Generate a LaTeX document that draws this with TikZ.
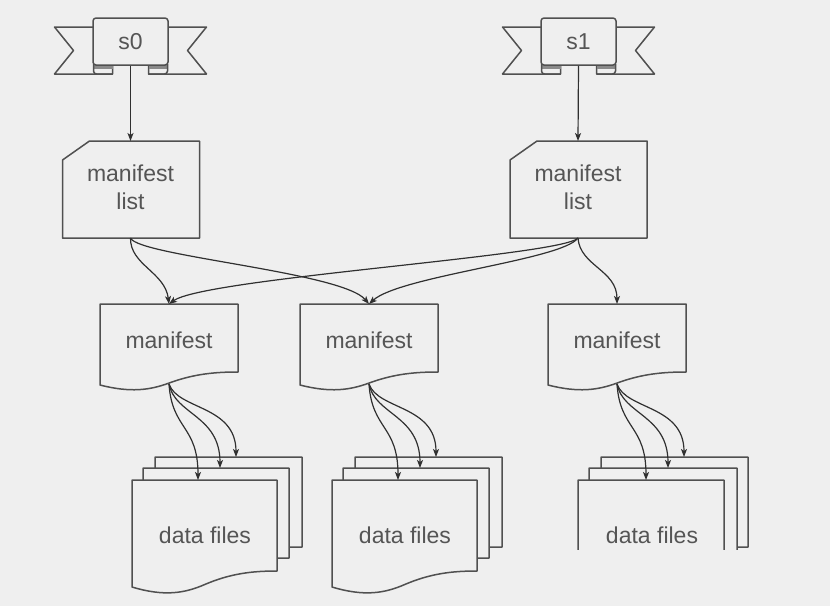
\documentclass[tikz,border=0pt]{standalone}
\usepackage{fontspec}
\setmainfont{Liberation Sans}
\usetikzlibrary{arrows.meta,calc}
\definecolor{bg}{HTML}{EFEFEF}
\definecolor{edgec}{HTML}{505050}
\definecolor{arrc}{HTML}{303030}
\definecolor{txtc}{HTML}{555555}
\definecolor{foldc}{HTML}{8A8A8A}
\tikzset{
  outl/.style={draw=edgec, line width=1.5pt, line join=round},
  conn/.style={draw=arrc, line width=1.2pt, -{Stealth[length=8pt,width=6pt,inset=2pt]}},
  lbl/.style={text=txtc, font=\fontsize{23}{28}\selectfont, inner sep=0pt, align=center},
  flag/.style={outl, fill=bg, rounded corners=3pt, minimum width=75pt, minimum height=47pt, inner sep=0pt, text=txtc, font=\fontsize{23}{28}\selectfont},
}
% document shape: x1 ytop x2 yright yleft
\newcommand\mydoc[5]{%
  \draw[outl, fill=bg] ({#1},#2) -- ({#3},#2) -- ({#3},#4)
   .. controls ({(#1)+0.83*((#3)-(#1))},#4) and ({(#1)+0.68*((#3)-(#1))},{(#4)+0.15*((#5)-(#4))}) .. ({(#1)+0.5*((#3)-(#1))},{(#5)-0.15*((#5)-(#4))})
   .. controls ({(#1)+0.36*((#3)-(#1))},{(#5)+0.4*((#5)-(#4))}) and ({(#1)+0.22*((#3)-(#1))},{(#5)+0.6*((#5)-(#4))}) .. ({#1},#5) -- cycle;}
\newcommand\mybanner[3]{%
  \begin{scope}[shift={(#1,0)}]
    \draw[outl, fill=bg] (-37,27) -- (-76,27) -- (-57,50.5) -- (-76,74) -- (-18,74) -- (-18,64);
    \draw[outl, fill=bg] (37,27) -- (76,27) -- (57,50.5) -- (76,74) -- (18,74) -- (18,64);
    \fill[foldc] (-37,64) rectangle (-18,69);
    \fill[foldc] (18,64) rectangle (37,69);
    \draw[outl, rounded corners=3pt] (-37,64) -- (-37,74) -- (-18,74);
    \draw[outl, rounded corners=3pt] (37,64) -- (37,74) -- (18,74);
  \end{scope}
  \node[flag] (#2) at (#1,41.5) {#3};}
\newcommand\mylist[2]{% center x, name
  \draw[outl, fill=bg] ({#1-68},160) -- ({#1-41},141) -- ({#1+69},141) -- ({#1+69},238) -- ({#1-68},238) -- cycle;
  \node[lbl] (#2) at (#1,187) {manifest\\list};
  \coordinate (#2t) at (#1,141);
  \coordinate (#2b) at (#1,238);}
\begin{document}
\begin{tikzpicture}[x=1pt, y=-1pt]
\fill[bg] (0,0) rectangle (830,606);
\useasboundingbox (0,0) rectangle (830,606);

% snapshots
\mybanner{130.5}{S0}{s0}
\mybanner{578.5}{S1}{s1}

% manifest lists
\mylist{130.5}{L0}
\mylist{578}{L1}

% manifests
\foreach \i/\mx in {0/169,1/369,2/617}{
  \mydoc{\mx-69}{304}{\mx+69}{372}{385}
  \node[lbl] (M\i) at (\mx,340) {manifest};
  \coordinate (Mt\i) at (\mx,304);
  \coordinate (Mb\i) at (\mx,384);
}

% data file stacks
\foreach \i/\dx in {0/0,1/200}{
  \mydoc{155+\dx}{457}{302+\dx}{547}{563}
  \mydoc{143+\dx}{468}{289+\dx}{558}{574}
  \mydoc{132+\dx}{480}{277+\dx}{571}{587}
  \node[lbl] (D\i) at (205+\dx,535) {data files};
}
\begin{scope}
  \clip (0,0) rectangle (830,549);
  \mydoc{601}{457}{748}{547}{563}
  \mydoc{589}{468}{737}{558}{574}
  \mydoc{578}{480}{724}{571}{587}
  \node[lbl] (D2) at (652,535) {data files};
\end{scope}

% snapshot -> manifest list
\draw[conn] (S0.south) -- (L0t);
\draw[conn] (S1.south) -- (L1t);

% manifest list -> manifests
\draw[conn] (L0b) .. controls (130,265) and (165,272) .. (Mt0);
\draw[conn] (L0b) .. controls (138,256) and (342,272) .. (Mt1);
\draw[conn] (L1b) .. controls (562,256) and (205,278) .. (Mt0);
\draw[conn] (L1b) .. controls (562,260) and (400,276) .. (Mt1);
\draw[conn] (L1b) .. controls (580,266) and (617,270) .. (Mt2);

% manifests -> data files
\foreach \i/\mx in {0/169,1/369,2/617}{
  \coordinate (Fa\i) at (\mx+29,480);
  \coordinate (Fb\i) at (\mx+51,468);
  \coordinate (Fc\i) at (\mx+67,457);
  \draw[conn] (Mb\i) .. controls (\mx+3,430) and (\mx+29,425) .. (Fa\i);
  \draw[conn] (Mb\i) .. controls (\mx+6,415) and (\mx+51,415) .. (Fb\i);
  \draw[conn] (Mb\i) .. controls (\mx+9,410) and (\mx+67,405) .. (Fc\i);
}
\end{tikzpicture}
\end{document}
